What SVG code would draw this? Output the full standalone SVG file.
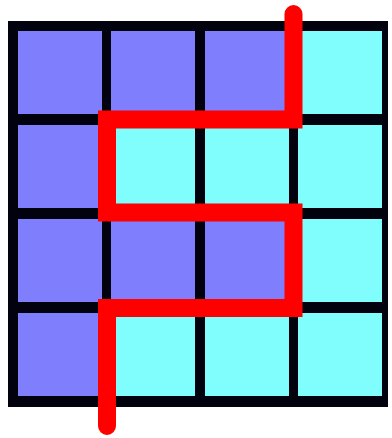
<svg xmlns="http://www.w3.org/2000/svg" width="392" height="438" viewBox="0 0 392 438">
  <style>
    .b { fill: #7f7ffd; }
    .c { fill: #80fdfd; }
    .path { fill: none; stroke: #ff0000; stroke-width: 18; stroke-linecap: round; stroke-linejoin: miter; }
  </style>
  <rect width="392" height="438" fill="#ffffff"/>
  <rect id="frame" x="8" y="21" width="380" height="386" fill="#02020e"/>
  <g id="row1">
    <rect class="b" x="18" y="31" width="84" height="83"/>
    <rect class="b" x="111" y="31" width="84" height="83"/>
    <rect class="b" x="205" y="31" width="84" height="83"/>
    <rect class="c" x="298" y="31" width="84" height="83"/>
  </g>
  <g id="row2">
    <rect class="b" x="18" y="125" width="84" height="83"/>
    <rect class="c" x="111" y="125" width="84" height="83"/>
    <rect class="c" x="205" y="125" width="84" height="83"/>
    <rect class="c" x="298" y="125" width="84" height="83"/>
  </g>
  <g id="row3">
    <rect class="b" x="18" y="219" width="84" height="83"/>
    <rect class="b" x="111" y="219" width="84" height="83"/>
    <rect class="b" x="205" y="219" width="84" height="83"/>
    <rect class="c" x="298" y="219" width="84" height="83"/>
  </g>
  <g id="row4">
    <rect class="b" x="18" y="313" width="84" height="83"/>
    <rect class="c" x="111" y="313" width="84" height="83"/>
    <rect class="c" x="205" y="313" width="84" height="83"/>
    <rect class="c" x="298" y="313" width="84" height="83"/>
  </g>
  <g id="connectors">
    <path class="path" d="M293.5,14 V119.5 H107 V212.5 H293.5 V308 H107 V426"/>
  </g>
</svg>
